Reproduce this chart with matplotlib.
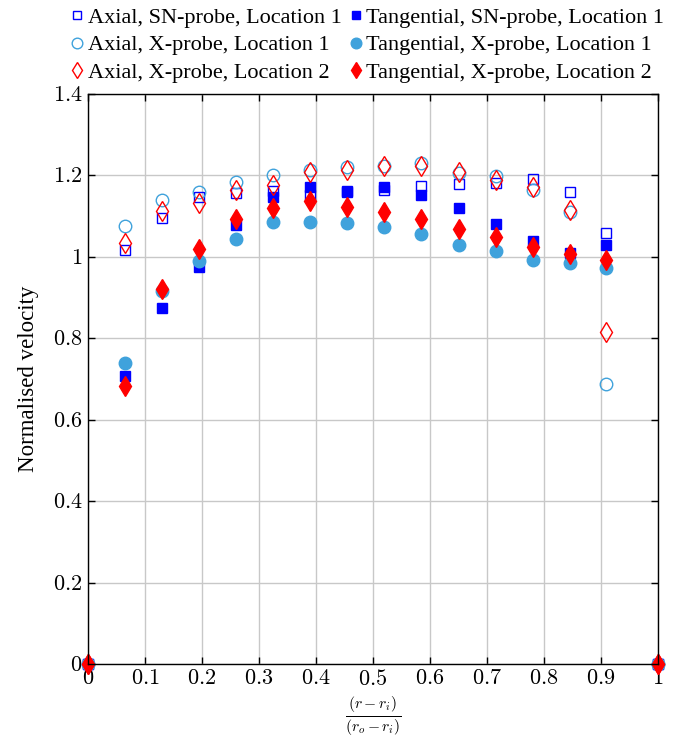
import matplotlib
matplotlib.use("Agg")
import matplotlib.pyplot as plt
from matplotlib.ticker import FuncFormatter

plt.rcParams['font.family'] = ['Liberation Serif', 'DejaVu Serif']
plt.rcParams['mathtext.fontset'] = 'cm'

x = [0, 0.065, 0.13, 0.195, 0.26, 0.325, 0.39, 0.455, 0.52, 0.585, 0.65, 0.715, 0.78, 0.845, 0.908, 1.0]

axial_sn_loc1 = [0, 1.017, 1.095, 1.146, 1.156, 1.162, 1.152, 1.162, 1.163, 1.174, 1.179, 1.181, 1.191, 1.159, 1.058, 0]
tang_sn_loc1 = [0, 0.707, 0.874, 0.976, 1.078, 1.146, 1.172, 1.160, 1.172, 1.152, 1.119, 1.081, 1.040, 1.009, 1.028, 0]
axial_x_loc1 = [0, 1.076, 1.140, 1.159, 1.185, 1.200, 1.213, 1.220, 1.222, 1.230, 1.207, 1.199, 1.164, 1.109, 0.688, 0]
tang_x_loc1 = [0, 0.739, 0.915, 0.990, 1.043, 1.085, 1.085, 1.084, 1.073, 1.055, 1.029, 1.015, 0.992, 0.984, 0.972, 0]
axial_x_loc2 = [0, 1.033, 1.113, 1.133, 1.164, 1.177, 1.209, 1.213, 1.224, 1.222, 1.209, 1.189, 1.171, 1.115, 0.816, 0]
tang_x_loc2 = [0, 0.683, 0.920, 1.019, 1.093, 1.121, 1.138, 1.123, 1.109, 1.092, 1.068, 1.048, 1.023, 1.007, 0.992, 0]

labels = ["Axial, SN-probe, Location 1", "Tangential, SN-probe, Location 1",
          "Axial, X-probe, Location 1", "Tangential, X-probe, Location 1",
          "Axial, X-probe, Location 2", "Tangential, X-probe, Location 2"]

BLUE = '#0000ff'
LBLUE = '#3fa2dc'
RED = '#ff0000'

fig = plt.figure(figsize=(6.81, 7.40), dpi=100)
ax = fig.add_axes([88/681, 1-664/740, 570/681, 570/740])

h = []
h.append(ax.plot(x, axial_sn_loc1, ls='none', marker='s', ms=7, mfc='none', mec=BLUE, mew=1.0, label=labels[0])[0])
h.append(ax.plot(x, tang_sn_loc1, ls='none', marker='s', ms=7, mfc=BLUE, mec=BLUE, label=labels[1])[0])
h.append(ax.plot(x, axial_x_loc1, ls='none', marker='o', ms=9, mfc='none', mec=LBLUE, mew=1.0, label=labels[2])[0])
h.append(ax.plot(x, tang_x_loc1, ls='none', marker='o', ms=9, mfc=LBLUE, mec=LBLUE, label=labels[3])[0])
h.append(ax.plot(x, axial_x_loc2, ls='none', marker='d', ms=10, mfc='none', mec=RED, mew=1.0, label=labels[4])[0])
h.append(ax.plot(x, tang_x_loc2, ls='none', marker='d', ms=10, mfc=RED, mec=RED, label=labels[5])[0])

for a in h:
    a.set_clip_on(False)

ax.set_xlim(0, 1)
ax.set_ylim(0, 1.4)
ax.set_xticks([i/10 for i in range(11)])
ax.set_yticks([i/5 for i in range(8)])

def fmt(v, pos):
    s = f"{v:.1f}"
    if s.endswith('.0'):
        s = s[:-2]
    return f"${s}$"

ax.xaxis.set_major_formatter(FuncFormatter(fmt))
ax.yaxis.set_major_formatter(FuncFormatter(fmt))
ax.tick_params(direction='in', top=True, right=True, length=5, width=1, labelsize=16, pad=4)
ax.grid(True, color='#c8c8c8', lw=1.0)
ax.set_axisbelow(True)
for s in ax.spines.values():
    s.set_linewidth(1.0)

ax.set_ylabel("Normalised velocity", fontsize=16.5, labelpad=10)
ax.set_xlabel(r"$\frac{(r-r_i)}{(r_o-r_i)}$", fontsize=16, labelpad=3)

order = [0, 2, 4, 1, 3, 5]
fig.legend([h[i] for i in order], [labels[i] for i in order], ncol=2, frameon=False,
           loc='upper left', bbox_to_anchor=(60/681, 1.0 + 4/740), fontsize=16,
           handlelength=0.55, handletextpad=0.2, columnspacing=0.35, labelspacing=0.32,
           borderpad=0.0, markerscale=0.85)

fig.savefig("out.png", dpi=100)
